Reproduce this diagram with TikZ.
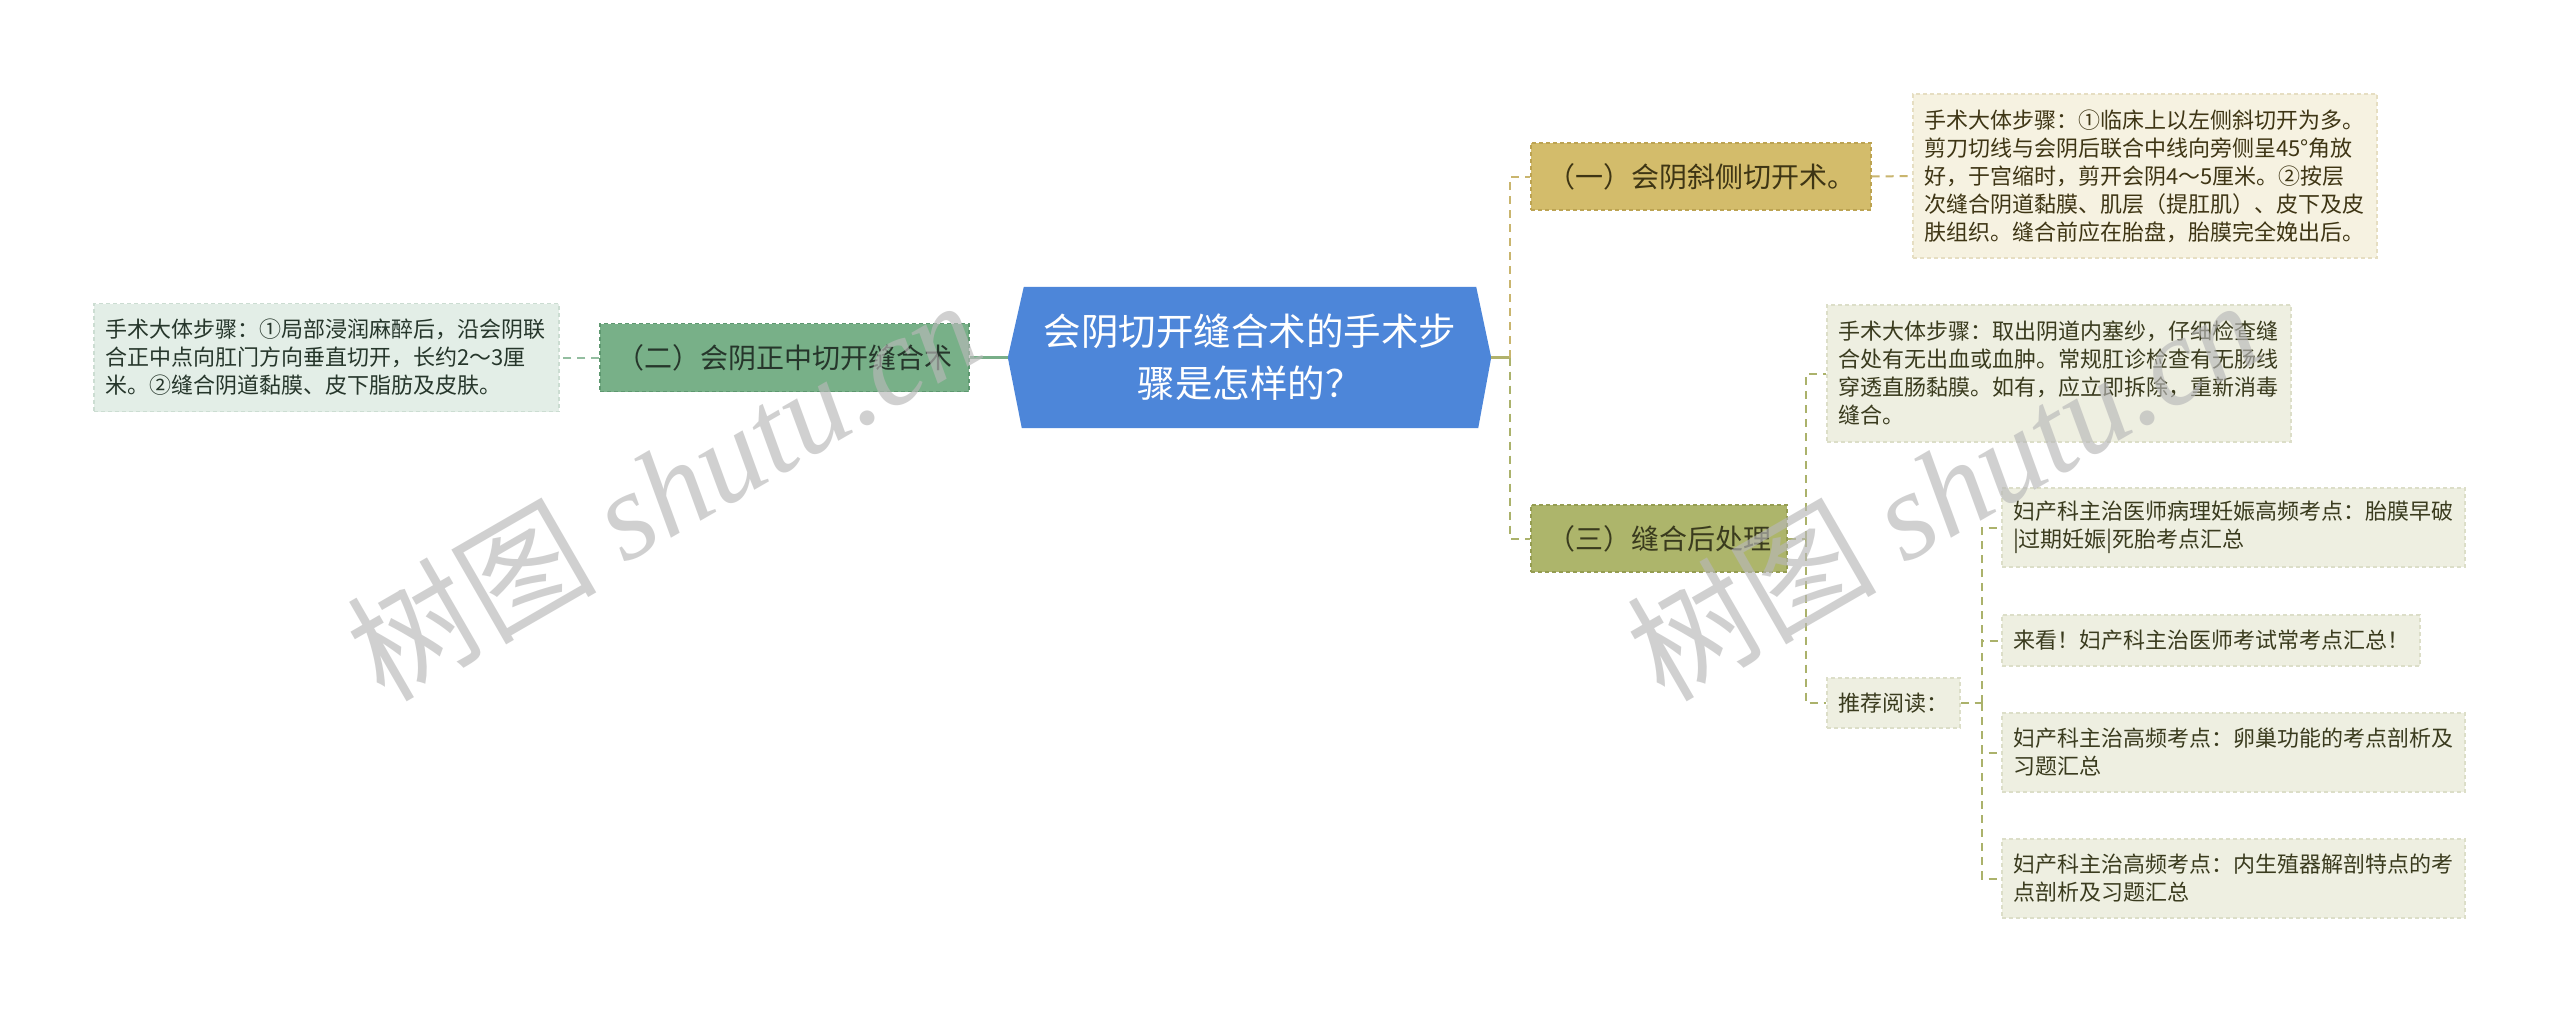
\documentclass[tikz,border=0pt]{standalone}
\usepackage{fontspec}
\setmainfont{Noto Sans CJK SC}
\newfontfamily\wmlatin{Liberation Serif}
\usetikzlibrary{calc,backgrounds}
\definecolor{cblue}{HTML}{4D86D9}
\definecolor{gline}{HTML}{78AE88}
\definecolor{gfill}{HTML}{78B088}
\definecolor{gborder}{HTML}{5E9870}
\definecolor{gleaf}{HTML}{E3EEE7}
\definecolor{gleafb}{HTML}{CCDDD2}
\definecolor{gtext}{HTML}{26362B}
\definecolor{ufill}{HTML}{D3BC6B}
\definecolor{uborder}{HTML}{BCA352}
\definecolor{uleaf}{HTML}{F6F2E1}
\definecolor{uleafb}{HTML}{E6DEC2}
\definecolor{utext}{HTML}{3E3514}
\definecolor{uline}{HTML}{C9B56E}
\definecolor{ofill}{HTML}{ADB56B}
\definecolor{oborder}{HTML}{959D52}
\definecolor{oleaf}{HTML}{EEEFE1}
\definecolor{oleafb}{HTML}{DCDEC8}
\definecolor{otext}{HTML}{3A3B1E}
\definecolor{oline}{HTML}{ABB26B}
\definecolor{wmgray}{HTML}{B8B8B8}
\tikzset{
  boxbase/.style={inner xsep=0pt, inner ysep=0pt, line width=1.2pt, dash pattern=on 4pt off 3pt},
  topic/.style={boxbase, font=\fontsize{28}{34}\selectfont, align=center},
  leafbox/.style={boxbase, inner xsep=11pt, font=\fontsize{22}{28}\selectfont, align=left},
  dashln/.style={line width=2pt, dash pattern=on 8pt off 6pt},
  wmark/.style={text=wmgray, opacity=0.65, font=\fontsize{125}{125}\selectfont, inner sep=0pt, rotate=30, anchor=base west}
}
\begin{document}
\begin{tikzpicture}[x=1pt,y=-1pt]
\begin{scope}[on background layer]
\fill[white] (0,0) rectangle (2560,1013);
\end{scope}
\useasboundingbox (0,0) rectangle (2560,1013);

% central topic
\node[inner sep=0pt, minimum width=452pt, minimum height=141pt, text=white,
      font=\fontsize{37.5}{52}\selectfont, align=center] (c) at (1250,357.5)
  {会阴切开缝合术的手术步\\骤是怎样的？};
\coordinate (cL) at ($(c.west)+(-16pt,0)$);
\coordinate (cR) at ($(c.east)+(15pt,0)$);
\begin{scope}[on background layer]
\fill[cblue] (c.north west) -- (c.north east) -- (cR) -- ($(c.south east)+(2pt,0)$)
  -- ($(c.south west)+(-2pt,0)$) -- (cL) -- cycle;
\end{scope}

% left branch
\node[topic, fill=gfill, draw=gborder, text=gtext, minimum width=369pt, minimum height=68pt] (n2) at (784.5,357.5) {（二）会阴正中切开缝合术};
\node[leafbox, fill=gleaf, draw=gleafb, text=gtext, text width=443pt, minimum height=108pt] (L2) at (326.5,357.5)
  {手术大体步骤：①局部浸润麻醉后，沿会阴联\\合正中点向肛门方向垂直切开，长约2～3厘\\米。②缝合阴道黏膜、皮下脂肪及皮肤。};

% right branch 1
\node[topic, fill=ufill, draw=uborder, text=utext, minimum width=340pt, minimum height=67pt] (n1) at (1701,176.5) {（一）会阴斜侧切开术。};
\node[leafbox, fill=uleaf, draw=uleafb, text=utext, text width=442pt, minimum height=164pt] (L1) at (2145,176)
  {手术大体步骤：①临床上以左侧斜切开为多。\\剪刀切线与会阴后联合中线向旁侧呈45°角放\\好，于宫缩时，剪开会阴4～5厘米。②按层\\次缝合阴道黏膜、肌层（提肛肌）、皮下及皮\\肤组织。缝合前应在胎盘，胎膜完全娩出后。};

% right branch 3
\node[topic, fill=ofill, draw=oborder, text=otext, minimum width=256pt, minimum height=67pt] (n3) at (1659,538.5) {（三）缝合后处理};
\node[leafbox, fill=oleaf, draw=oleafb, text=otext, text width=442pt, minimum height=137pt] (L31) at (2059,373.5)
  {手术大体步骤：取出阴道内塞纱，仔细检查缝\\合处有无出血或血肿。常规肛诊检查有无肠线\\穿透直肠黏膜。如有，应立即拆除，重新消毒\\缝合。};
\node[leafbox, fill=oleaf, draw=oleafb, text=otext, minimum width=133pt, minimum height=50pt] (R) at (1893.5,703) {推荐阅读：};
\node[leafbox, fill=oleaf, draw=oleafb, text=otext, text width=441pt, minimum height=79pt] (A) at (2233.5,527.5)
  {妇产科主治医师病理妊娠高频考点：胎膜早破\\|过期妊娠|死胎考点汇总};
\node[leafbox, fill=oleaf, draw=oleafb, text=otext, text width=396pt, minimum height=51pt] (B) at (2211,640.5)
  {来看！妇产科主治医师考试常考点汇总！};
\node[leafbox, fill=oleaf, draw=oleafb, text=otext, text width=441pt, minimum height=79pt] (C) at (2233.5,752.5)
  {妇产科主治高频考点：卵巢功能的考点剖析及\\习题汇总};
\node[leafbox, fill=oleaf, draw=oleafb, text=otext, text width=441pt, minimum height=79pt] (D) at (2233.5,878.5)
  {妇产科主治高频考点：内生殖器解剖特点的考\\点剖析及习题汇总};

% connectors
\draw[gline, line width=3pt] (cL) -- (n2.east);
\draw[gline!80, dashln] (n2.west) -- (L2.east);

\coordinate (j1) at (1510,357.5);
\draw[oline!80!uline, line width=3pt] (cR) -- (j1);
\draw[uline, dashln] (j1) |- (n1.west);
\draw[oline, dashln] (j1) |- (n3.west);
\draw[uline, dashln] (n1.east) -- (L1.west);

\coordinate (j3) at (1806,538.5);
\draw[oline, dashln] (n3.east) -- (j3);
\draw[oline, dashln] (j3) |- (L31.west);
\draw[oline, dashln] (j3) |- (R.west);

\coordinate (j4) at (1982,703);
\draw[oline, dashln] (R.east) -- (j4);
\draw[oline, dashln] (j4) |- (A.west);
\draw[oline, dashln] (j4) |- (B.west);
\draw[oline, dashln] (j4) |- (C.west);
\draw[oline, dashln] (j4) |- (D.west);

% watermarks
\node[wmark] (wm1) at (384,704) {树图 {\wmlatin\itshape shutu.cn}};
\node[wmark] (wm2) at (1664,704) {树图 {\wmlatin\itshape shutu.cn}};
\end{tikzpicture}
\end{document}
